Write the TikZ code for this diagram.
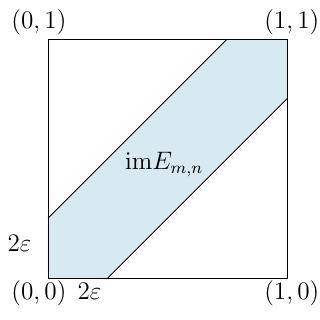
\documentclass[tikz,border=0pt]{standalone}
\usepackage{amsmath}
\usepackage{amssymb}
\usepackage{tikz}
\usetikzlibrary{positioning,calc}
\definecolor{bandblue}{RGB}{215,234,241}

\begin{document}
\begin{tikzpicture}[x=4cm, y=4cm, lbl/.style={anchor=base, inner sep=0pt, font=\fontsize{12}{14}\selectfont}]
\useasboundingbox (-0.2008,-0.1757) rectangle (1.138,1.163);

% band
\fill[bandblue] (0,0) -- (0.25,0) -- (1,0.75) -- (1,1) -- (0.75,1) -- (0,0.25) -- cycle;
\draw (0,0.25) -- (0.75,1);
\draw (0.25,0) -- (1,0.75);

% unit square
\draw (0,0) rectangle (1,1);

% corner labels
\node[lbl] (c00) at (-0.038,-0.092) {$(0,0)$};
\node[lbl] (c10) at (1.02,-0.092) {$(1,0)$};
\node[lbl] (c01) at (-0.038,1.045) {$(0,1)$};
\node[lbl] (c11) at (1.02,1.045) {$(1,1)$};

% epsilon labels
\node[lbl] (epsx) at (0.174,-0.092) {$2\varepsilon$};
\node[lbl] (epsy) at (-0.119,0.110) {$2\varepsilon$};

% image
\node[lbl] (img) at (0.486,0.452) {$\mathrm{im}E_{m,n}$};

\end{tikzpicture}
\end{document}
